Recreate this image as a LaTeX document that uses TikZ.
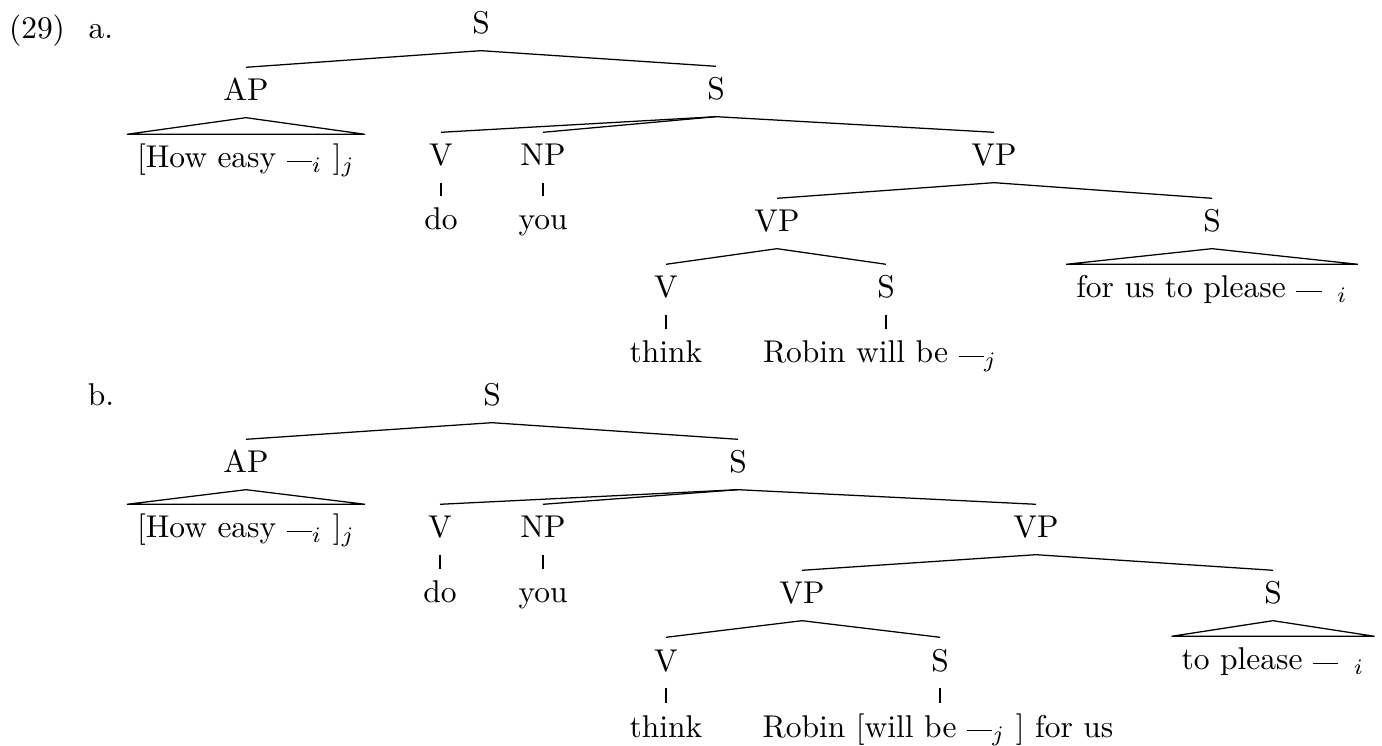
\documentclass[tikz,border=0pt]{standalone}
\usepackage{amsmath}
\usepackage{tikz}
\newcommand{\gap}{\rule[1.8pt]{8pt}{0.4pt}}

\begin{document}
\begin{tikzpicture}[x=0.3175pt,y=-0.3175pt,
  lbl/.style={anchor=base,inner sep=0pt},
  cat/.style={anchor=base,inner sep=0pt,text height=10.5pt,text depth=5.1pt},
  roof/.style={cat,inner xsep=3pt}]
\useasboundingbox (0,0) rectangle (1382,746);
% (29a)
\node[lbl] (ex) at (37,39) {(29)};
\node[lbl] (la) at (101,39) {a.};
\node[cat] (aS)    at (481,34)  {S};
\node[cat] (aAP)   at (246,101) {AP};
\node[cat] (aS1)   at (716,100) {S};
\node[roof](aHow)  at (246,168) {[How easy \gap$_i$ ]$_j$};
\node[cat] (aV)    at (441,166) {V};
\node[cat] (aNP)   at (543,166) {NP};
\node[cat] (aVP)   at (994,166) {VP};
\node[cat] (ado)   at (441,230) {do};
\node[cat] (ayou)  at (543,230) {you};
\node[cat] (aVP2)  at (777,232) {VP};
\node[cat] (aS2)   at (1212,232){S};
\node[roof](afor)  at (1212,298){for us to please \gap\enspace$_i$};
\node[cat] (aV2)   at (666,298) {V};
\node[cat] (aS3)   at (886,298) {S};
\node[cat] (athink)at (666,363) {think};
\node[cat] (arob)  at (880,363) {Robin will be \gap$_j$};
\draw (aS.south) -- (aAP.north);
\draw (aS.south) -- (aS1.north);
\draw (aAP.south) -- (aHow.north west) -- (aHow.north east) -- cycle;
\draw (aS1.south) -- (aV.north);
\draw (aS1.south) -- (aNP.north);
\draw (aS1.south) -- (aVP.north);
\draw (aV.south) -- (ado.north);
\draw (aNP.south) -- (ayou.north);
\draw (aVP.south) -- (aVP2.north);
\draw (aVP.south) -- (aS2.north);
\draw (aS2.south) -- (afor.north west) -- (afor.north east) -- cycle;
\draw (aVP2.south) -- (aV2.north);
\draw (aVP2.south) -- (aS3.north);
\draw (aV2.south) -- (athink.north);
\draw (aS3.south) -- (aS3.south |- arob.north);
% (29b)
\node[lbl] (lb) at (101,406) {b.};
\node[cat] (bS)    at (492,406) {S};
\node[cat] (bAP)   at (246,473) {AP};
\node[cat] (bS1)   at (738,473) {S};
\node[roof](bHow)  at (246,538) {[How easy \gap$_i$ ]$_j$};
\node[cat] (bV)    at (440,538) {V};
\node[cat] (bNP)   at (543,538) {NP};
\node[cat] (bVP)   at (1036,538){VP};
\node[cat] (bdo)   at (440,603) {do};
\node[cat] (byou)  at (543,603) {you};
\node[cat] (bVP2)  at (802,604) {VP};
\node[cat] (bS2)   at (1273,604){S};
\node[roof](bto)   at (1273,670){to please \gap\enspace$_i$};
\node[cat] (bV2)   at (666,671) {V};
\node[cat] (bS3)   at (940,671) {S};
\node[cat] (bthink)at (666,737) {think};
\node[cat] (brob)  at (938,737) {Robin [will be \gap$_j$ ] for us};
\draw (bS.south) -- (bAP.north);
\draw (bS.south) -- (bS1.north);
\draw (bAP.south) -- (bHow.north west) -- (bHow.north east) -- cycle;
\draw (bS1.south) -- (bV.north);
\draw (bS1.south) -- (bNP.north);
\draw (bS1.south) -- (bVP.north);
\draw (bV.south) -- (bdo.north);
\draw (bNP.south) -- (byou.north);
\draw (bVP.south) -- (bVP2.north);
\draw (bVP.south) -- (bS2.north);
\draw (bS2.south) -- (bto.north west) -- (bto.north east) -- cycle;
\draw (bVP2.south) -- (bV2.north);
\draw (bVP2.south) -- (bS3.north);
\draw (bV2.south) -- (bthink.north);
\draw (bS3.south) -- (bS3.south |- brob.north);
\end{tikzpicture}
\end{document}
